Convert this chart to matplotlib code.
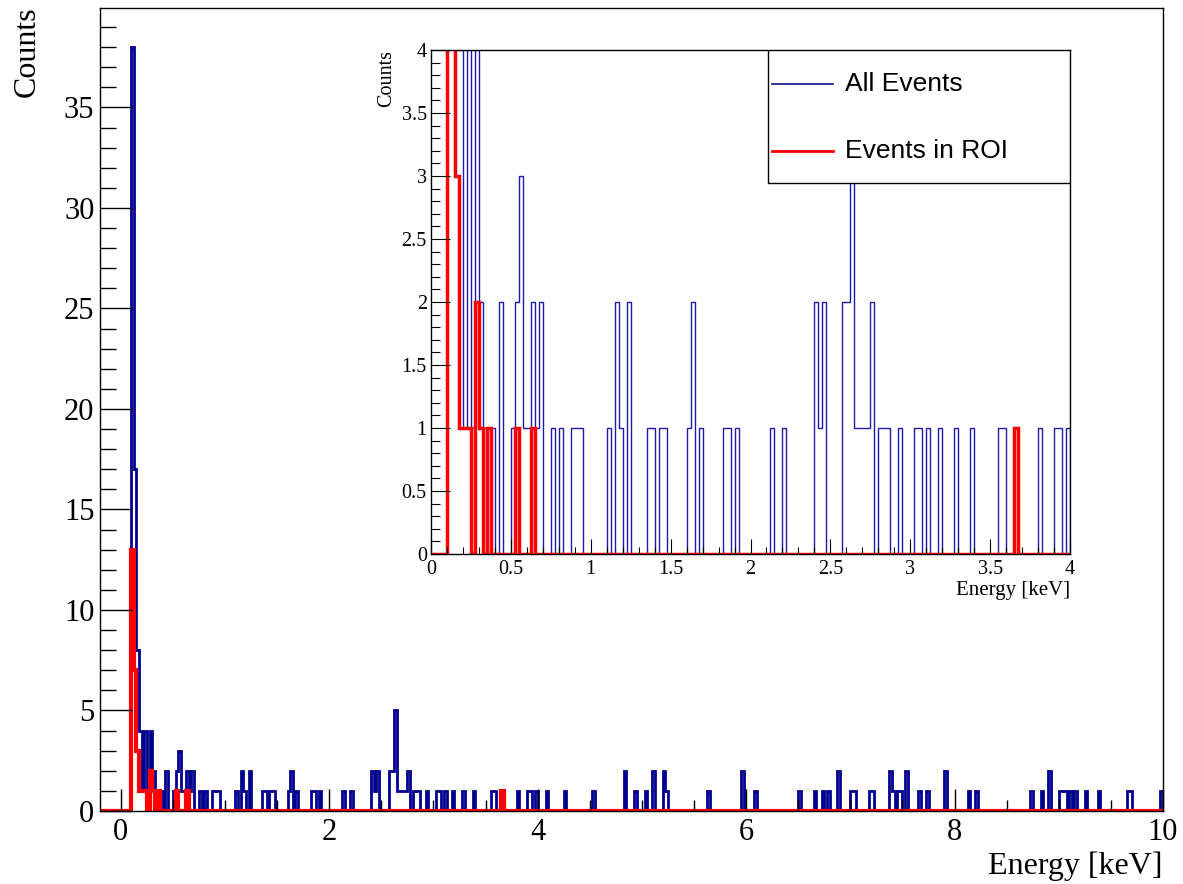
import numpy as np
import matplotlib.pyplot as plt
from matplotlib.patches import Rectangle
from matplotlib.lines import Line2D
from matplotlib.ticker import MultipleLocator

BIN_WIDTH = 0.025
E_MIN, E_MAX = -0.2, 10.0

# filled bins of the spectrum: lower bin edge [keV] and entries
all_energy = [0.100, 0.125, 0.150, 0.175, 0.200, 0.225, 0.250, 0.275, 0.300, 0.325,
              0.350, 0.375, 0.425, 0.500, 0.525, 0.550, 0.575, 0.600, 0.625, 0.650,
              0.675, 0.750, 0.800, 0.875, 0.900, 0.925, 1.100, 1.150, 1.175, 1.225,
              1.350, 1.375, 1.425, 1.450, 1.600, 1.625, 1.675, 1.825, 1.850, 1.900,
              2.125, 2.200, 2.400, 2.425, 2.450, 2.575, 2.600, 2.625, 2.650, 2.675,
              2.700, 2.725, 2.750, 2.800, 2.825, 2.850, 2.925, 3.025, 3.050, 3.100,
              3.175, 3.275, 3.375, 3.550, 3.575, 3.650, 3.800, 3.900, 3.925, 3.975,
              4.075, 4.250, 4.525, 4.825, 4.925, 5.025, 5.100, 5.200, 5.225, 5.625,
              5.950, 6.075, 6.500, 6.650, 6.725, 6.775, 6.875, 7.000, 7.025, 7.175,
              7.200, 7.375, 7.400, 7.450, 7.475, 7.525, 7.650, 7.725, 7.900, 8.125,
              8.200, 8.725, 8.825, 8.900, 9.000, 9.025, 9.050, 9.100, 9.150, 9.250,
              9.375, 9.650, 9.675, 9.975]
all_counts = [38, 17, 8, 4, 1, 4, 1, 4, 2, 1,
              1, 1, 2, 1, 2, 3, 1, 1, 2, 1,
              2, 1, 1, 1, 1, 1, 1, 2, 1, 2,
              1, 1, 1, 1, 1, 2, 1, 1, 1, 1,
              1, 1, 2, 1, 2, 2, 2, 5, 1, 1,
              1, 1, 2, 1, 1, 1, 1, 1, 1, 1,
              1, 1, 1, 1, 1, 1, 1, 1, 1, 1,
              1, 1, 1, 2, 1, 1, 2, 2, 1, 1,
              2, 1, 1, 1, 1, 1, 2, 1, 1, 1,
              1, 2, 1, 1, 1, 2, 1, 1, 2, 1,
              1, 1, 1, 2, 1, 1, 1, 1, 1, 1,
              1, 1, 1, 1]

roi_energy = [0.100, 0.125, 0.150, 0.175, 0.200, 0.225, 0.275, 0.300, 0.350, 0.525,
              0.625, 3.650]
roi_counts = [13, 7, 3, 1, 1, 1, 2, 1, 1, 1,
              1, 1]

edges = np.arange(E_MIN, E_MAX + BIN_WIDTH / 2, BIN_WIDTH)


def make_hist(energy, counts):
    h = np.zeros(len(edges) - 1)
    idx = np.round((np.array(energy) - E_MIN) / BIN_WIDTH).astype(int)
    h[idx] = counts
    return h


h_all = make_hist(all_energy, all_counts)
h_roi = make_hist(roi_energy, roi_counts)

serif = "Liberation Serif"
sans = "Liberation Sans"

fig = plt.figure(figsize=(11.83, 8.84), dpi=100)

# ---- full spectrum ----
ax = fig.add_axes([100 / 1183, 1 - 811 / 884, 1063 / 1183, 803 / 884])
ax.stairs(h_all, edges, baseline=0, color="#00008f", lw=2.0, joinstyle="miter")
ax.stairs(h_roi, edges, baseline=0, color="#ff0000", lw=3.0, joinstyle="miter")
ax.set_xlim(E_MIN, E_MAX)
ax.set_ylim(0, 39.95)
ax.xaxis.set_major_locator(MultipleLocator(2))
ax.xaxis.set_minor_locator(MultipleLocator(0.5))
ax.yaxis.set_major_locator(MultipleLocator(5))
ax.yaxis.set_minor_locator(MultipleLocator(1))
ax.tick_params(which="both", direction="in", top=False, right=False, width=1.0,
               labelsize=22, labelfontfamily=serif)
ax.tick_params(axis="x", which="major", length=16, pad=5)
ax.tick_params(axis="x", which="minor", length=8)
ax.tick_params(axis="y", which="major", length=23, pad=4)
ax.tick_params(axis="y", which="minor", length=11.5)
for s in ax.spines.values():
    s.set_linewidth(1.0)
fig.text(27 / 1183, 1 - 6 / 884, "Counts", rotation=90, ha="center", va="top",
         fontsize=23, family=serif)
fig.text(1163 / 1183, 1 - 866 / 884, "Energy [keV]", ha="right", va="center",
         fontsize=23, family=serif)

# ---- zoom on the low-energy part ----
axi = fig.add_axes([431 / 1183, 1 - 554 / 884, 639 / 1183, 504 / 884])
axi.stairs(h_all, edges, baseline=0, color="#1c1ca8", lw=1.0, joinstyle="miter")
axi.stairs(h_roi, edges, baseline=0, color="#ff0000", lw=2.5, joinstyle="miter")
axi.set_xlim(0, 4)
axi.set_ylim(0, 4)
axi.xaxis.set_major_locator(MultipleLocator(0.5))
axi.xaxis.set_minor_locator(MultipleLocator(0.1))
axi.yaxis.set_major_locator(MultipleLocator(0.5))
axi.yaxis.set_minor_locator(MultipleLocator(0.1))
axi.xaxis.set_major_formatter(lambda v, p: f"{v:g}")
axi.yaxis.set_major_formatter(lambda v, p: f"{v:g}")
axi.tick_params(which="both", direction="in", top=False, right=False, width=0.8,
                labelsize=14.5, labelfontfamily=serif)
axi.tick_params(axis="x", which="major", length=11, pad=4)
axi.tick_params(axis="x", which="minor", length=5)
axi.tick_params(axis="y", which="major", length=13.5, pad=3)
axi.tick_params(axis="y", which="minor", length=6.5)
for s in axi.spines.values():
    s.set_linewidth(1.0)
fig.text(387 / 1183, 1 - 50 / 884, "Counts", rotation=90, ha="center", va="top",
         fontsize=14.5, family=serif)
fig.text(1070 / 1183, 1 - 590 / 884, "Energy [keV]", ha="right", va="center",
         fontsize=15, family=serif)

# legend box in the top-right corner of the inset
lx0, ly0 = (768 - 431) / 639, (554 - 183) / 504
axi.add_patch(Rectangle((lx0, ly0), 1 - lx0, 1 - ly0, transform=axi.transAxes,
                        facecolor="white", edgecolor="black", lw=1.0, zorder=5))
legend_rows = [("All Events", "#10108a", 1.2, (554 - 84) / 504),
               ("Events in ROI", "#ff0000", 2.0, (554 - 151) / 504)]
for label, color, lw, yy in legend_rows:
    axi.add_line(Line2D([(772 - 431) / 639, (833 - 431) / 639], [yy, yy],
                        transform=axi.transAxes, color=color, lw=lw, zorder=6))
    axi.text((845 - 431) / 639, yy, label, transform=axi.transAxes, ha="left",
             va="center", fontsize=19, family=sans, zorder=6)

fig.savefig("out.png", dpi=100)
